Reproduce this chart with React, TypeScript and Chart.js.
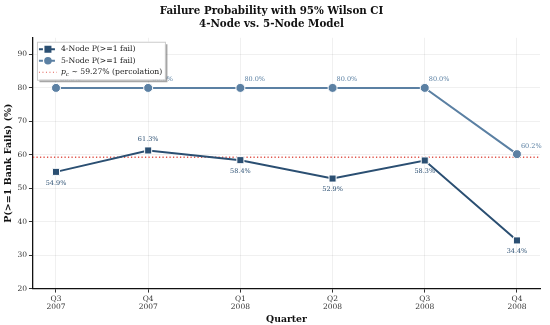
import React, { useEffect, useRef } from "react";
import { Chart, registerables } from "chart.js";

Chart.register(...registerables);

const quarters = [["Q3", "2007"], ["Q4", "2007"], ["Q1", "2008"], ["Q2", "2008"], ["Q3", "2008"], ["Q4", "2008"]];
const node4 = [54.9, 61.3, 58.4, 52.9, 58.3, 34.4];
const node5 = [80.0, 80.0, 80.0, 80.0, 80.0, 60.2];
const percolation = 59.27;
const yTicks = [20, 30, 40, 50, 60, 70, 80, 90];

const C4 = "#2b4f72";
const C5 = "#5b80a3";
const CRED = "#e0564c";
const FONT = "'DejaVu Serif', serif";

const labelPlugin = {
  id: "pointLabels",
  afterDatasetsDraw(chart: any) {
    const ctx = chart.ctx;
    ctx.save();
    ctx.font = `6.5px ${FONT}`;
    const max4 = Math.max(...node4);
    chart.data.datasets.forEach((ds: any, di: number) => {
      if (!ds.pointLabels) return;
      const meta = chart.getDatasetMeta(di);
      meta.data.forEach((pt: any, i: number) => {
        const v = ds.data[i].y;
        const txt = v.toFixed(1) + "%";
        ctx.fillStyle = ds.borderColor;
        if (di === 1) {
          ctx.textAlign = "left";
          ctx.textBaseline = "bottom";
          ctx.fillText(txt, pt.x + 4, pt.y - 5);
        } else {
          ctx.textAlign = "center";
          if (v === max4) {
            ctx.textBaseline = "bottom";
            ctx.fillText(txt, pt.x, pt.y - 8);
          } else {
            ctx.textBaseline = "top";
            ctx.fillText(txt, pt.x, pt.y + 8);
          }
        }
      });
    });
    ctx.restore();
  },
};

const legendPlugin = {
  id: "customLegend",
  afterDraw(chart: any) {
    const ctx = chart.ctx;
    const a = chart.chartArea;
    const x = a.left + 4, y = a.top + 4, w = 128, h = 38;
    ctx.save();
    ctx.fillStyle = "rgba(0,0,0,0.35)";
    ctx.fillRect(x + 2.5, y + 2.5, w, h);
    ctx.fillStyle = "#ffffff";
    ctx.fillRect(x, y, w, h);
    ctx.strokeStyle = "#cccccc";
    ctx.lineWidth = 1;
    ctx.strokeRect(x + 0.5, y + 0.5, w, h);
    const rows = [
      { t: "4-Node P(>=1 fail)", c: C4, m: "sq" },
      { t: "5-Node P(>=1 fail)", c: C5, m: "ci" },
      { t: "", c: CRED, m: "dot" },
    ];
    rows.forEach((r, i) => {
      const ry = y + 7.5 + i * 11.5;
      const lx = x + 2;
      ctx.strokeStyle = r.c;
      if (r.m === "dot") {
        ctx.lineWidth = 1.2;
        ctx.setLineDash([1, 2.5]);
      } else {
        ctx.lineWidth = 2;
        ctx.setLineDash([4, 2]);
      }
      ctx.beginPath();
      ctx.moveTo(lx, ry);
      ctx.lineTo(lx + 18, ry);
      ctx.stroke();
      ctx.setLineDash([]);
      ctx.fillStyle = r.c;
      if (r.m === "sq") {
        ctx.fillRect(lx + 5.5, ry - 3.5, 7, 7);
      } else if (r.m === "ci") {
        ctx.beginPath();
        ctx.arc(lx + 9, ry, 3.8, 0, Math.PI * 2);
        ctx.fill();
      }
      ctx.fillStyle = "#222";
      ctx.font = `7.7px ${FONT}`;
      ctx.textAlign = "left";
      ctx.textBaseline = "middle";
      const tx = lx + 22;
      if (r.m === "dot") {
        ctx.font = `italic 7.7px ${FONT}`;
        ctx.fillText("p", tx, ry);
        const pw = ctx.measureText("p").width;
        ctx.font = `italic 5.5px ${FONT}`;
        ctx.fillText("c", tx + pw, ry + 2);
        const cw = ctx.measureText("c").width;
        ctx.font = `7.7px ${FONT}`;
        ctx.fillText(" ~ 59.27% (percolation)", tx + pw + cw, ry);
      } else {
        ctx.fillText(r.t, tx, ry);
      }
    });
    ctx.restore();
  },
};

export default function App() {
  const ref = useRef<HTMLCanvasElement>(null);
  useEffect(() => {
    document.body.style.margin = "0";
    const toXY = (arr: number[]) => arr.map((v, i) => ({ x: i, y: v }));
    const chart = new Chart(ref.current!, {
      type: "line",
      data: {
        datasets: [
          {
            label: "p_c",
            data: [{ x: -0.25, y: percolation }, { x: 5.25, y: percolation }],
            borderColor: CRED,
            borderWidth: 1.3,
            borderDash: [1.3, 2.2],
            pointRadius: 0,
            order: 3,
          },
          {
            label: "5-Node P(>=1 fail)",
            data: toXY(node5),
            borderColor: C5,
            backgroundColor: C5,
            borderWidth: 2,
            pointStyle: "circle",
            pointRadius: 4.5,
            pointBorderColor: "#ffffff",
            pointBorderWidth: 1,
            pointLabels: true,
            order: 2,
          } as any,
          {
            label: "4-Node P(>=1 fail)",
            data: toXY(node4),
            borderColor: C4,
            backgroundColor: C4,
            borderWidth: 2,
            pointStyle: "rect",
            pointRadius: 5,
            pointBorderColor: "#ffffff",
            pointBorderWidth: 1,
            pointLabels: true,
            order: 1,
          } as any,
        ],
      },
      options: {
        animation: false,
        responsive: false,
        layout: { padding: { left: 3, right: 10, top: 0, bottom: 0 } },
        plugins: {
          legend: { display: false },
          tooltip: { enabled: false },
          title: {
            display: true,
            text: ["Failure Probability with 95% Wilson CI", "4-Node vs. 5-Node Model"],
            font: { family: FONT, size: 10.3, weight: "bold", lineHeight: 1.25 },
            color: "#111",
            padding: { top: 5, bottom: 7 },
          },
        },
        scales: {
          x: {
            type: "linear",
            min: -0.25,
            max: 5.25,
            afterBuildTicks: (s: any) => {
              s.ticks = quarters.map((_, i) => ({ value: i }));
            },
            ticks: {
              callback: (v: any) => quarters[v as number],
              font: { family: FONT, size: 7.5, lineHeight: 1.15 },
              color: "#333",
              padding: 2,
              maxRotation: 0,
            },
            grid: { color: "rgba(0,0,0,0.06)", drawTicks: true, tickLength: 4, tickColor: "#333" },
            border: { color: "#111", width: 1.3 },
            title: {
              display: true,
              text: "Quarter",
              font: { family: FONT, size: 9.3, weight: "bold" },
              color: "#111",
              padding: { top: 0, bottom: 0 },
            },
          },
          y: {
            min: 20,
            max: 95,
            afterBuildTicks: (s: any) => {
              s.ticks = yTicks.map((v) => ({ value: v }));
            },
            ticks: {
              font: { family: FONT, size: 7.5 },
              color: "#333",
              padding: 2,
            },
            grid: { color: "rgba(0,0,0,0.06)", tickLength: 4, tickColor: "#333" },
            border: { color: "#111", width: 1.3 },
            title: {
              display: true,
              text: "P(>=1 Bank Fails) (%)",
              font: { family: FONT, size: 9.5, weight: "bold" },
              color: "#111",
              padding: { top: 0, bottom: 1 },
            },
          },
        },
      },
      plugins: [labelPlugin, legendPlugin],
    } as any);
    return () => chart.destroy();
  }, []);
  return <canvas ref={ref} width={550} height={325} style={{ display: "block" }} />;
}
